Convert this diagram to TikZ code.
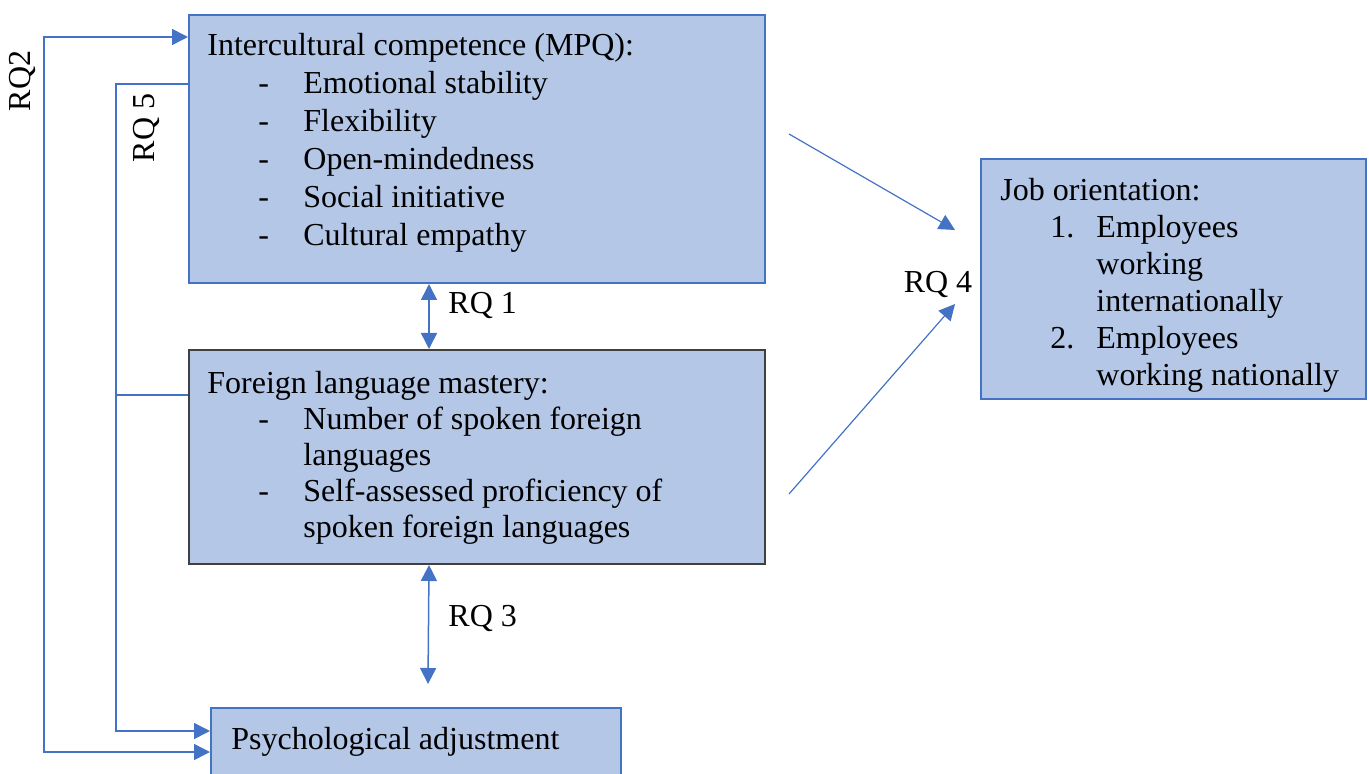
\documentclass[tikz,border=0pt]{standalone}
\usepackage{fontspec}
\setmainfont{Liberation Serif}
\usetikzlibrary{arrows.meta,positioning}

\definecolor{boxfill}{HTML}{B4C7E7}
\definecolor{rqblue}{HTML}{4472C4}
\definecolor{boxgray}{HTML}{404040}

\newcommand{\dashitem}[1]{\hspace*{25.5pt}\makebox[22.5pt][l]{-}#1}
\newcommand{\numitem}[2]{\hspace*{25pt}\makebox[23pt][l]{#1}#2}
\newcommand{\contline}[1]{\hspace*{48pt}#1}

\begin{document}
\begin{tikzpicture}[x=0.5pt,y=-0.5pt,
	>={Triangle[length=8pt,width=8pt]},
	box/.style={draw=rqblue, fill=boxfill, line width=1pt, anchor=north west, inner sep=0pt},
	txt/.style={anchor=north west, inner sep=0pt, align=left, font=\fontsize{16pt}{18.5pt}\selectfont},
	link/.style={draw=rqblue, line width=0.75pt},
	rq/.style={inner sep=0pt, font=\fontsize{16pt}{19pt}\selectfont}]
	\clip (0,0) rectangle (1369,774);

	% boxes
	\node[box, minimum width=288pt, minimum height=134pt] (ic) at (188,14) {};
	\node[box, draw=boxgray, minimum width=288pt, minimum height=107pt] (flm) at (188,349) {};
	\node[box, minimum width=192.5pt, minimum height=120pt] (job) at (980,158) {};
	\node[box, minimum width=205pt, minimum height=50pt] (psy) at (210,707) {};

	\node[txt, font=\fontsize{16pt}{19pt}\selectfont, below right=9.5pt and 9.5pt of ic.north west] (ictxt) {Intercultural competence (MPQ):\\
		\dashitem{Emotional stability}\\
		\dashitem{Flexibility}\\
		\dashitem{Open-mindedness}\\
		\dashitem{Social initiative}\\
		\dashitem{Cultural empathy}};
	\node[txt, font=\fontsize{16pt}{18pt}\selectfont, below right=11pt and 9.5pt of flm.north west] (flmtxt) {Foreign language mastery:\\
		\dashitem{Number of spoken foreign}\\
		\contline{languages}\\
		\dashitem{Self-assessed proficiency of}\\
		\contline{spoken foreign languages}};
	\node[txt, below right=10pt and 10pt of job.north west] (jobtxt) {Job orientation:\\
		\numitem{1.}{Employees}\\
		\contline{working}\\
		\contline{internationally}\\
		\numitem{2.}{Employees}\\
		\contline{working nationally}};
	\node[txt, below right=10pt and 10.5pt of psy.north west] (psytxt) {Psychological adjustment};

	% connectors
	\coordinate (rq3end) at (428,684);
	\coordinate (icout) at (789,134);
	\coordinate (flmout) at (789,494);
	\coordinate (jobinA) at (955,230);
	\coordinate (jobinB) at (955,304);

	\draw[link,<->] ([xshift=-24pt]ic.south) -- ([xshift=-24pt]flm.north);
	\draw[link,<->] ([xshift=-24pt]flm.south) -- (rq3end);
	\draw[link,line width=0.6pt,->] (icout) -- (jobinA);
	\draw[link,line width=0.6pt,->] (flmout) -- (jobinB);
	\draw[link,<->] ([yshift=-11.5pt]ic.north west) -- ++(-72pt,0) |- ([yshift=-22.5pt]psy.north west);
	\draw[link,->] ([yshift=-35pt]ic.north west) -- ++(-36pt,0) |- ([yshift=-12pt]psy.north west);
	\draw[link] ([yshift=-23pt]flm.north west) -- ++(-36pt,0);

	% labels
	\node[rq, rotate=90] (rq2) at (23,81) {RQ2};
	\node[rq, rotate=90] (rq5) at (146,128) {RQ 5};
	\node[rq, anchor=west] (rq1) at (448,306) {RQ 1};
	\node[rq, anchor=west] (rq3) at (448,618) {RQ 3};
	\node[rq] (rq4) at (938,285) {RQ 4};
\end{tikzpicture}
\end{document}
